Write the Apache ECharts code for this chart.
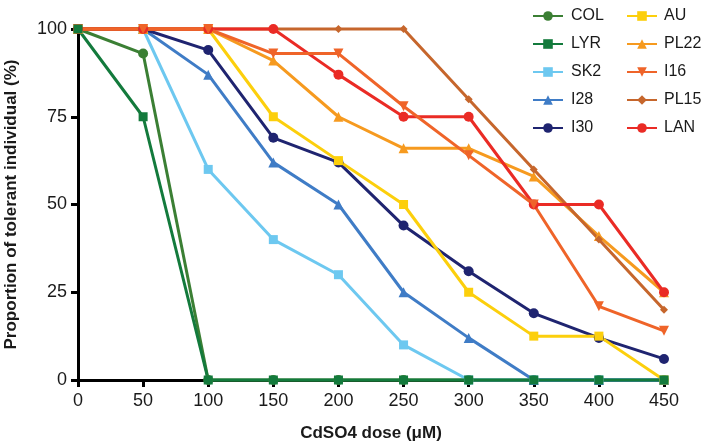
<!DOCTYPE html>
<html><head><meta charset="utf-8">
<script src="https://cdn.jsdelivr.net/npm/echarts@6/dist/echarts.min.js"></script>
<style>html,body{margin:0;padding:0;background:#fff}#c{width:703px;height:448px}</style>
</head><body><div id="c"></div>
<script>
const doses = [0, 50, 100, 150, 200, 250, 300, 350, 400, 450];
const COL  = [100, 93, 0, 0, 0, 0, 0, 0, 0, 0];
const LYR  = [100, 75, 0, 0, 0, 0, 0, 0, 0, 0];
const SK2  = [100, 100, 60, 40, 30, 10, 0, 0, 0, 0];
const I28  = [100, 100, 87, 62, 50, 25, 12, 0, 0, 0];
const I30  = [100, 100, 94, 69, 62, 44, 31, 19, 12, 6];
const AU   = [100, 100, 100, 75, 62.5, 50, 25, 12.5, 12.5, 0];
const PL22 = [100, 100, 100, 91, 75, 66, 66, 58, 41, 25];
const I16  = [100, 100, 100, 93, 93, 78, 64, 50, 21, 14];
const PL15 = [100, 100, 100, 100, 100, 100, 80, 60, 40, 20];
const LAN  = [100, 100, 100, 100, 87, 75, 75, 50, 50, 25];
const yTicks = [0, 25, 50, 75, 100];

const seriesDefs = [
  {name:'COL', data:COL, color:'#3b7f34', symbol:'circle', size:10},
  {name:'SK2', data:SK2, color:'#6dc8f0', symbol:'rect', size:9},
  {name:'I28', data:I28, color:'#3f7cc6', symbol:'triangle', size:10},
  {name:'I30', data:I30, color:'#1f2470', symbol:'circle', size:10},
  {name:'AU', data:AU, color:'#fccf0c', symbol:'rect', size:9},
  {name:'PL22', data:PL22, color:'#f69a1f', symbol:'triangle', size:10},
  {name:'PL15', data:PL15, color:'#c6662c', symbol:'diamond', size:8},
  {name:'LAN', data:LAN, color:'#ea2b25', symbol:'circle', size:10},
  {name:'I16', data:I16, color:'#ef6429', symbol:'path://M0,0L10,0L5,9Z', size:10},
  {name:'LYR', data:LYR, color:'#137a3c', symbol:'rect', size:9}
];

const FF = "'Liberation Sans', Arial, Helvetica, sans-serif";
const chart = echarts.init(document.getElementById('c'), null, {renderer:'canvas'});
chart.setOption({
  animation:false,
  backgroundColor:'#fff',
  grid:{left:78, right:39, top:29, bottom:68, containLabel:false, outerBoundsMode:'none'},
  legend:[
    {data:['COL','LYR','SK2','I28','I30'], orient:'vertical', left:527, top:3,
     itemWidth:30, itemHeight:12, itemGap:12,
     textStyle:{fontSize:16, fontFamily:FF, color:'#1a1a1a', padding:[0,0,0,3]}},
    {data:['AU','PL22','I16','PL15','LAN'], orient:'vertical', left:621, top:3,
     itemWidth:30, itemHeight:12, itemGap:12,
     textStyle:{fontSize:16, fontFamily:FF, color:'#1a1a1a', padding:[0,0,0,2]}}
  ],
  xAxis:{type:'value', min:0, max:450, interval:50,
    name:'CdSO4 dose (μM)', nameLocation:'middle', nameGap:45,
    nameTextStyle:{fontSize:17, fontWeight:'bold', fontFamily:FF, color:'#1a1a1a'},
    axisLine:{show:true, lineStyle:{color:'#000', width:3}},
    axisTick:{show:true, inside:false, length:7, lineStyle:{color:'#000', width:3}},
    axisLabel:{fontSize:18, margin:12, fontFamily:FF, color:'#1a1a1a'},
    splitLine:{show:false}},
  yAxis:{type:'value', min:0, max:100, interval:25,
    name:'Proportion of tolerant individual (%)', nameLocation:'middle', nameGap:58,
    nameTextStyle:{fontSize:17, fontWeight:'bold', fontFamily:FF, color:'#1a1a1a'},
    axisLine:{show:true, lineStyle:{color:'#000', width:3}},
    axisTick:{show:true, inside:false, length:7, lineStyle:{color:'#000', width:3}},
    axisLabel:{fontSize:18, margin:11, fontFamily:FF, color:'#1a1a1a',
      formatter:v => yTicks.includes(v) ? String(v) : ''},
    splitLine:{show:false}},
  series: seriesDefs.map(s => ({
    name:s.name, type:'line', data:doses.map((d,i)=>[d, s.data[i]]),
    symbol:s.symbol, symbolSize:s.size, showSymbol:true,
    itemStyle:{color:s.color}, lineStyle:{color:s.color, width:3},
    clip:false
  }))
});
</script></body></html>
